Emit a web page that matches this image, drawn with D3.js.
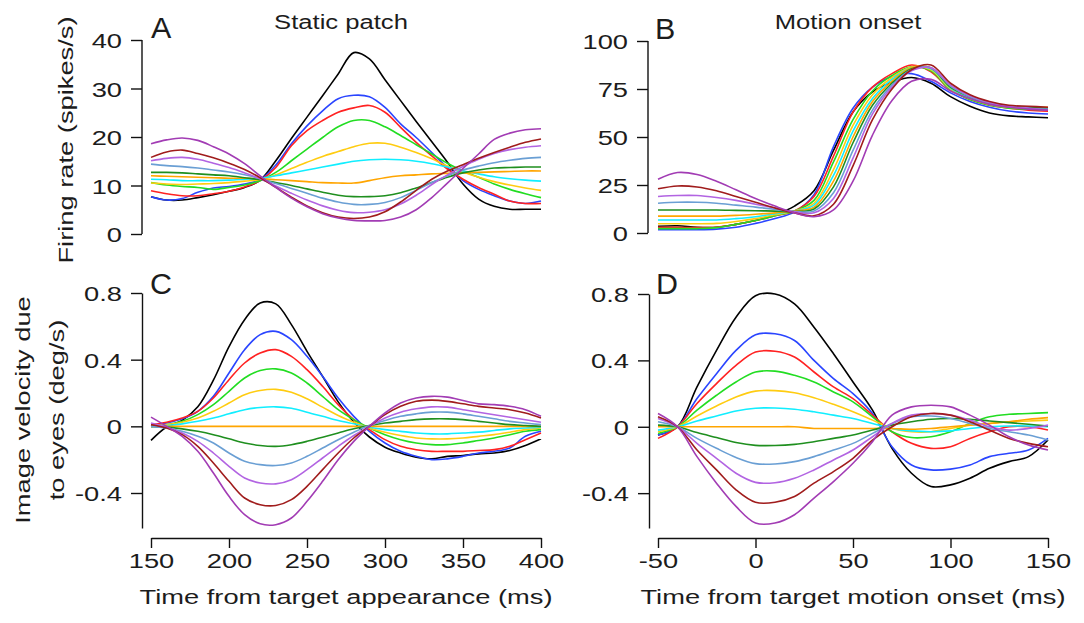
<!DOCTYPE html>
<html>
<head>
<meta charset="utf-8">
<script src="https://cdn.jsdelivr.net/npm/d3@7"></script>
<style>
  html, body { margin: 0; padding: 0; background: #fff; }
  svg { display: block; font-family: "Liberation Sans", Arial, sans-serif; }
</style>
</head>
<body>
<svg id="chart" width="1084" height="623"></svg>
<script>
// time grids
const timeStatic = [150, 160, 170, 180, 190, 200, 210, 220, 230, 240, 250, 260, 270,
  280, 290, 300, 310, 320, 330, 340, 350, 360, 370, 380, 390, 400];
const timeMotion = [-50, -40, -30, -20, -10, 0, 10, 20, 30, 40, 50, 60, 70, 80, 90,
  100, 110, 120, 130, 140, 150];

// one colour per condition, same order in every panel
const seriesColors = ["#000000", "#2a45ff", "#ff2222", "#22dd22", "#ffcc11", "#11eeff",
  "#ffa500", "#1f8f1f", "#6a9fd4", "#b264e2", "#a01c1c", "#a23cb4"];

// A: firing rate, static patch (spikes/s)
const rateStatic = [
  [7.7, 7.0, 7.0, 7.5, 8.1, 8.8, 9.6, 11.1, 15.1, 19.7, 24.1, 28.5, 33.0, 37.4, 36.1, 31.8, 27.5, 23.2, 19.0, 14.8, 10.3, 7.2, 5.7, 5.1, 5.1, 5.1],
  [7.7, 7.0, 7.3, 8.6, 9.5, 9.8, 10.3, 11.2, 14.2, 18.6, 22.3, 25.4, 27.9, 28.6, 28.3, 26.1, 22.7, 19.9, 16.8, 13.7, 11.0, 9.2, 7.9, 6.8, 6.3, 6.8],
  [8.9, 8.3, 7.9, 7.9, 8.3, 8.8, 9.7, 11.0, 13.7, 18.2, 21.3, 23.4, 25.1, 26.0, 26.5, 25.1, 22.0, 18.9, 16.1, 13.4, 11.3, 9.6, 8.2, 6.8, 6.3, 6.3],
  [10.6, 10.1, 9.8, 9.6, 9.2, 9.6, 10.1, 11.0, 12.7, 15.1, 17.5, 19.9, 22.1, 23.4, 23.4, 22.1, 20.3, 18.4, 16.5, 14.6, 13.0, 11.7, 10.3, 9.2, 8.3, 7.5],
  [10.5, 10.3, 10.2, 10.3, 10.4, 10.6, 10.9, 11.2, 12.2, 13.5, 14.8, 16.0, 17.0, 18.0, 18.7, 18.7, 17.9, 16.8, 15.5, 14.0, 12.8, 11.7, 10.8, 10.1, 9.5, 9.0],
  [11.3, 11.2, 11.0, 11.0, 11.0, 11.1, 11.3, 11.5, 12.0, 12.6, 13.2, 13.8, 14.4, 15.0, 15.3, 15.4, 15.3, 15.0, 14.5, 13.8, 13.0, 12.4, 11.8, 11.4, 11.1, 10.9],
  [12.0, 11.9, 11.8, 11.7, 11.6, 11.5, 11.5, 11.4, 11.2, 11.0, 10.8, 10.6, 10.5, 10.5, 11.0, 11.6, 12.0, 12.2, 12.4, 12.5, 12.6, 12.7, 12.8, 12.9, 13.0, 13.0],
  [12.7, 12.7, 12.6, 12.4, 12.2, 12.0, 11.6, 11.2, 10.6, 10.0, 9.3, 8.6, 8.0, 7.7, 7.7, 7.9, 8.5, 9.5, 10.6, 11.7, 12.6, 13.2, 13.6, 13.7, 13.8, 13.8],
  [14.4, 14.1, 13.9, 13.6, 13.2, 12.8, 12.2, 11.4, 10.4, 9.4, 8.4, 7.4, 6.6, 6.1, 6.1, 6.5, 7.5, 9.0, 10.6, 12.0, 13.2, 14.0, 14.7, 15.2, 15.6, 15.8],
  [15.1, 15.6, 15.8, 15.4, 14.6, 13.7, 12.6, 11.4, 9.9, 8.4, 7.0, 5.8, 4.9, 4.4, 4.5, 5.0, 6.2, 8.0, 10.2, 12.2, 13.9, 15.4, 16.6, 17.4, 17.9, 18.2],
  [15.8, 16.9, 17.3, 16.6, 15.7, 14.6, 13.3, 11.6, 9.6, 7.6, 5.8, 4.4, 3.5, 3.2, 3.5, 4.6, 6.6, 9.0, 11.3, 13.0, 14.3, 15.6, 16.8, 17.9, 18.9, 19.6],
  [18.6, 19.4, 19.8, 19.3, 18.0, 16.5, 14.5, 12.0, 9.6, 7.4, 5.6, 4.2, 3.3, 2.8, 2.7, 2.8, 3.5, 5.0, 7.5, 10.5, 13.5, 16.5, 19.5, 20.8, 21.5, 21.7]
];

// B: firing rate, motion onset (spikes/s)
const rateMotion = [
  [3.5, 3.8, 3.0, 3.0, 4.5, 6.5, 9.5, 14, 22, 43, 63, 73.5, 78.5, 81, 78, 71, 66, 62.5, 61, 60.5, 60],
  [1.7, 1.7, 1.7, 2.0, 3.0, 5.0, 7.5, 11, 20, 45, 65, 76, 81.5, 83, 79, 73, 68.5, 65.5, 63.5, 62.5, 62],
  [3, 3, 2.8, 3, 4.5, 6.5, 9, 11.5, 19, 40, 63, 76, 83, 87.5, 84, 74.5, 69.5, 66.5, 65, 64, 63.5],
  [2.3, 2.3, 2.3, 2.8, 4.5, 6.5, 9, 11.5, 17, 37, 59, 74, 82, 86.5, 84.5, 74.5, 69.5, 66.5, 65, 64.5, 64],
  [4.8, 4.8, 4.8, 5, 6, 7.5, 9.5, 11.5, 15.5, 33, 56, 72, 81, 86.5, 85, 75, 70, 67, 65.5, 65, 65],
  [6.8, 6.8, 6.8, 6.8, 7.5, 8.5, 10, 11.5, 14.5, 30, 53, 70, 80, 86, 85.5, 75.5, 70.5, 67.5, 66, 65.5, 65],
  [8.8, 8.8, 8.8, 8.8, 9.2, 9.8, 10.5, 11.5, 13.5, 27, 50, 68.5, 79, 86, 86, 76, 71, 67.5, 66, 65.5, 65.5],
  [12, 12, 12, 12, 11.8, 11.6, 11.4, 11.2, 12.5, 24, 47, 66.5, 78, 85.5, 86, 76, 71, 67.5, 66, 65.5, 65],
  [15.5, 16, 16, 15.5, 14.5, 13.5, 12.3, 11.2, 11.5, 21, 43, 64, 77, 85, 86, 76.5, 71, 67.5, 66, 65, 64.5],
  [19, 19.5, 19.5, 18.5, 17, 15, 13, 11, 10.5, 18, 39, 62, 76, 84.5, 86, 77, 71.5, 68, 66, 65, 64],
  [23, 24.5, 24, 22, 19, 16, 13, 10.5, 9, 15, 35, 59, 75, 85, 87.5, 78, 72, 68.5, 66.5, 66, 65.5],
  [28, 31.5, 30.5, 27, 22.5, 18, 14, 10.5, 8.5, 12, 27, 51, 69, 79, 80, 74, 70, 67, 65.5, 64.5, 64]
];

// C: image velocity, static patch (deg/s)
const velStatic = [
  [-0.084, -0.004, 0.036, 0.117, 0.277, 0.478, 0.64, 0.74, 0.735, 0.61, 0.45, 0.30, 0.147, 0.026, -0.064, -0.125, -0.16, -0.185, -0.195, -0.18, -0.175, -0.165, -0.16, -0.145, -0.115, -0.074],
  [0.0, 0.02, 0.045, 0.09, 0.18, 0.32, 0.46, 0.55, 0.57, 0.52, 0.42, 0.30, 0.17, 0.06, -0.03, -0.10, -0.15, -0.18, -0.2, -0.195, -0.18, -0.16, -0.15, -0.13, -0.06, -0.03],
  [0.01, 0.025, 0.05, 0.09, 0.17, 0.28, 0.38, 0.44, 0.46, 0.42, 0.34, 0.24, 0.13, 0.04, -0.02, -0.08, -0.12, -0.14, -0.15, -0.15, -0.15, -0.145, -0.14, -0.12, -0.08, -0.04],
  [0.0, 0.01, 0.03, 0.07, 0.13, 0.21, 0.29, 0.335, 0.345, 0.32, 0.26, 0.18, 0.1, 0.04, -0.01, -0.05, -0.08, -0.1, -0.11, -0.11, -0.1, -0.085, -0.07, -0.05, -0.03, -0.02],
  [0.0, 0.01, 0.025, 0.05, 0.09, 0.14, 0.19, 0.215, 0.222, 0.205, 0.165, 0.115, 0.065, 0.025, -0.01, -0.035, -0.055, -0.07, -0.075, -0.075, -0.07, -0.06, -0.05, -0.035, -0.02, -0.01],
  [0.0, 0.005, 0.015, 0.03, 0.05, 0.075, 0.1, 0.113, 0.117, 0.108, 0.085, 0.06, 0.035, 0.015, -0.005, -0.02, -0.03, -0.04, -0.045, -0.045, -0.04, -0.035, -0.025, -0.015, -0.01, -0.005],
  [0, 0, 0, 0, 0, 0, 0, 0, 0, 0, 0, 0, 0, 0, 0, 0, 0, 0, 0, 0, 0, 0, 0, 0, 0, 0],
  [0.0, -0.005, -0.015, -0.03, -0.05, -0.075, -0.1, -0.115, -0.12, -0.11, -0.09, -0.065, -0.04, -0.015, 0.005, 0.02, 0.03, 0.04, 0.045, 0.045, 0.04, 0.03, 0.02, 0.01, 0.005, 0.0],
  [0.0, -0.01, -0.03, -0.06, -0.1, -0.16, -0.21, -0.23, -0.235, -0.22, -0.18, -0.13, -0.08, -0.035, 0.005, 0.035, 0.06, 0.075, 0.085, 0.085, 0.075, 0.06, 0.045, 0.03, 0.02, 0.01],
  [0.02, -0.005, -0.04, -0.09, -0.16, -0.24, -0.31, -0.34, -0.345, -0.32, -0.26, -0.19, -0.12, -0.055, 0.0, 0.05, 0.085, 0.105, 0.117, 0.115, 0.1, 0.085, 0.07, 0.055, 0.04, 0.025],
  [0.01, -0.01, -0.05, -0.12, -0.22, -0.33, -0.43, -0.47, -0.475, -0.44, -0.36, -0.26, -0.16, -0.07, 0.0, 0.07, 0.12, 0.15, 0.157, 0.15, 0.135, 0.12, 0.11, 0.1, 0.08, 0.05],
  [0.055, 0.0, -0.06, -0.15, -0.28, -0.42, -0.53, -0.585, -0.59, -0.55, -0.45, -0.33, -0.2, -0.09, 0.0, 0.08, 0.14, 0.17, 0.18, 0.175, 0.155, 0.135, 0.13, 0.12, 0.1, 0.06]
];

// D: image velocity, motion onset (deg/s)
const velMotion = [
  [-0.05, 0.0, 0.24, 0.46, 0.66, 0.79, 0.8, 0.74, 0.6, 0.44, 0.27, 0.1, -0.13, -0.28, -0.36, -0.35, -0.31, -0.25, -0.21, -0.18, -0.08],
  [-0.05, 0.0, 0.17, 0.32, 0.46, 0.555, 0.56, 0.52, 0.4, 0.29, 0.2, 0.08, -0.12, -0.23, -0.26, -0.255, -0.23, -0.18, -0.16, -0.14, -0.07],
  [-0.07, 0.0, 0.14, 0.26, 0.37, 0.45, 0.455, 0.42, 0.33, 0.24, 0.17, 0.07, -0.03, -0.1, -0.13, -0.12, -0.07, -0.03, 0.0, 0.0, -0.02],
  [-0.04, 0.0, 0.1, 0.19, 0.27, 0.33, 0.335, 0.31, 0.27, 0.21, 0.15, 0.06, -0.03, -0.065, -0.06, -0.03, 0.02, 0.06, 0.075, 0.08, 0.085],
  [-0.03, 0.0, 0.065, 0.125, 0.18, 0.215, 0.218, 0.205, 0.175, 0.135, 0.09, 0.04, -0.01, -0.03, -0.03, -0.01, 0.01, 0.02, 0.03, 0.035, 0.04],
  [-0.02, 0.0, 0.035, 0.065, 0.095, 0.112, 0.113, 0.106, 0.09, 0.07, 0.05, 0.02, -0.01, -0.025, -0.03, -0.025, -0.01, 0.0, 0.005, 0.005, 0.0],
  [0, 0, 0, 0, 0, 0, 0, 0, -0.01, -0.01, -0.01, -0.01, -0.01, -0.015, -0.01, 0.0, 0.01, 0.02, 0.03, 0.045, 0.055],
  [0.01, 0.0, -0.035, -0.065, -0.095, -0.112, -0.113, -0.106, -0.09, -0.07, -0.05, -0.02, 0.01, 0.03, 0.045, 0.05, 0.045, 0.035, 0.025, 0.015, 0.005],
  [0.03, 0.0, -0.07, -0.13, -0.185, -0.222, -0.224, -0.21, -0.18, -0.14, -0.1, -0.04, 0.02, 0.06, 0.065, 0.05, 0.02, -0.01, -0.03, -0.05, -0.08],
  [0.05, 0.0, -0.1, -0.19, -0.28, -0.335, -0.337, -0.31, -0.26, -0.2, -0.14, -0.06, 0.02, 0.07, 0.08, 0.07, 0.04, 0.0, -0.02, -0.01, 0.01],
  [0.06, 0.0, -0.14, -0.26, -0.38, -0.455, -0.455, -0.42, -0.34, -0.27, -0.19, -0.08, 0.0, 0.06, 0.08, 0.07, 0.03, -0.02, -0.07, -0.1, -0.12],
  [0.08, 0.0, -0.18, -0.34, -0.48, -0.58, -0.58, -0.53, -0.43, -0.33, -0.22, -0.09, 0.07, 0.12, 0.13, 0.12, 0.07, 0.01, -0.06, -0.11, -0.14]
];

const rateTicks = { A: [0, 10, 20, 30, 40], B: [0, 25, 50, 75, 100] };
const velTicks = [-0.4, 0, 0.4, 0.8];
const staticTicks = [150, 200, 250, 300, 350, 400];
const motionTicks = [-50, 0, 50, 100, 150];

const svg = d3.select("#chart");
const textColor = "#1c1c1c";
const fontSize = 21;
const stretch = 1.3;   // the figure's lettering is wide for its height

function addText(parent, x, y, str, opts = {}) {
  const rot = opts.rotate ? ` rotate(${opts.rotate})` : "";
  return parent
    .append("text")
    .attr("transform", `translate(${x},${y})${rot} scale(${opts.sx ?? stretch},1)`)
    .attr("text-anchor", opts.anchor || "middle")
    .attr("font-size", opts.size || fontSize)
    .attr("fill", textColor)
    .text(str);
}

const xStatic = d3.scaleLinear().domain([150, 400]).range([151, 541]);
const xMotion = d3.scaleLinear().domain([-50, 150]).range([658, 1048]);

const panels = [
  { id: "A", x: xStatic, t: timeStatic, data: rateStatic, y: d3.scaleLinear().domain([0, 40]).range([234, 40]),
    ticks: rateTicks.A, axisX: 142, bottom: false },
  { id: "B", x: xMotion, t: timeMotion, data: rateMotion, y: d3.scaleLinear().domain([0, 100]).range([233, 41]),
    ticks: rateTicks.B, axisX: 648, bottom: false },
  { id: "C", x: xStatic, t: timeStatic, data: velStatic, y: d3.scaleLinear().domain([-0.61, 0.8]).range([528, 293]),
    ticks: velTicks, axisX: 142, bottom: true, xticks: staticTicks },
  { id: "D", x: xMotion, t: timeMotion, data: velMotion, y: d3.scaleLinear().domain([-0.61, 0.8]).range([528, 294]),
    ticks: velTicks, axisX: 649, bottom: true, xticks: motionTicks }
];

panels.forEach(p => {
  const g = svg.append("g").attr("class", `panel-${p.id}`);

  // y axis, drawn off to the left of the traces
  const yAxis = g.append("g")
    .attr("transform", `translate(${p.axisX},0)`)
    .call(d3.axisLeft(p.y).tickValues(p.ticks).tickSize(11).tickSizeOuter(0).tickFormat(d => String(d)));
  yAxis.select(".domain").attr("stroke", "#111").attr("stroke-width", 1.4);
  yAxis.selectAll(".tick line").attr("stroke", "#111").attr("stroke-width", 1.4);
  yAxis.selectAll(".tick text")
    .attr("x", null).attr("dy", "0.36em")
    .attr("transform", `translate(-20,0) scale(${stretch},1)`)
    .attr("font-size", fontSize).attr("font-family", null).attr("fill", textColor);
  if (!p.bottom) yAxis.select(".domain").attr("d", `M0,${p.y(p.ticks[p.ticks.length - 1])}V${p.y(0)}`);

  if (p.bottom) {
    const xAxis = g.append("g")
      .attr("transform", "translate(0,538)")
      .call(d3.axisBottom(p.x).tickValues(p.xticks).tickSize(10).tickSizeOuter(0).tickFormat(d => String(d)));
    xAxis.select(".domain").attr("stroke", "#111").attr("stroke-width", 1.4);
    xAxis.selectAll(".tick line").attr("stroke", "#111").attr("stroke-width", 1.4);
    xAxis.selectAll(".tick text")
      .attr("y", null).attr("dy", null)
      .attr("transform", `translate(0,30) scale(${stretch},1)`)
      .attr("font-size", fontSize).attr("font-family", null).attr("fill", textColor);
  }

  const line = d3.line()
    .x((d, i) => p.x(p.t[i]))
    .y(d => p.y(d))
    .curve(d3.curveCatmullRom.alpha(0.5));

  g.append("g").selectAll("path")
    .data(p.data)
    .join("path")
    .attr("fill", "none")
    .attr("stroke", (d, i) => seriesColors[i])
    .attr("stroke-width", 1.6)
    .attr("stroke-linejoin", "round")
    .attr("d", line);
});

// panel letters
addText(svg, 151, 38, "A", { anchor: "start", size: 29, sx: 1.05 });
addText(svg, 655, 39, "B", { anchor: "start", size: 29, sx: 1.05 });
addText(svg, 150, 294, "C", { anchor: "start", size: 29, sx: 1.05 });
addText(svg, 656, 294, "D", { anchor: "start", size: 29, sx: 1.05 });

// column titles
addText(svg, 341, 29, "Static patch", { sx: 1.22 });
addText(svg, 848, 29, "Motion onset", { sx: 1.22 });

// axis titles
addText(svg, 346, 604, "Time from target appearance (ms)");
addText(svg, 853, 604, "Time from target motion onset (ms)");
addText(svg, 73, 140, "Firing rate (spikes/s)", { rotate: -90 });
addText(svg, 30, 410, "Image velocity due", { rotate: -90 });
addText(svg, 64, 410, "to eyes (deg/s)", { rotate: -90 });
</script>
</body>
</html>
